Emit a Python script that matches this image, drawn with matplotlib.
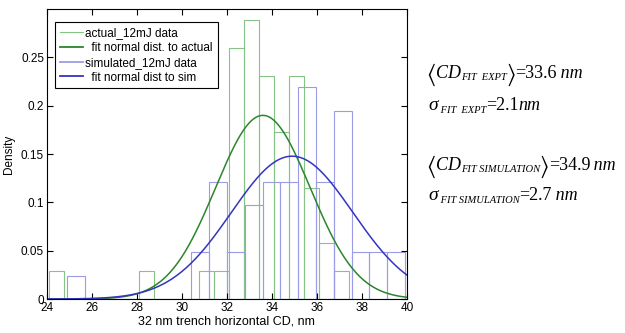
import numpy as np
import matplotlib.pyplot as plt
from matplotlib.lines import Line2D
from matplotlib.transforms import IdentityTransform

actual_start = 24.1
actual_width = 0.667
actual_counts = [1, 0, 0, 0, 0, 0, 1, 0, 0, 0, 1, 1, 9, 10, 8, 6, 8, 4, 2, 1]

sim_start = 24.89
sim_width = 0.791
sim_counts = [1, 0, 0, 0, 0, 0, 0, 2, 5, 2, 4, 5, 5, 9, 5, 8, 2, 2, 2]

# fitted normal parameters (from the annotations)
mu_expt, sigma_expt = 33.6, 2.1
mu_sim, sigma_sim = 34.9, 2.7

xticks = [24, 26, 28, 30, 32, 34, 36, 38, 40]
yticks = [0, 0.05, 0.1, 0.15, 0.2, 0.25]
ytick_labels = ['0', '0.05', '0.1', '0.15', '0.2', '0.25']

c_act = '#86c386'
c_sim = '#9c9ce6'
c_fit_act = '#2b862b'
c_fit_sim = '#3434c0'


def normal_pdf(x, mu, s):
    return np.exp(-0.5 * ((x - mu) / s) ** 2) / (s * np.sqrt(2 * np.pi))


plt.rcParams['font.family'] = ['Liberation Sans', 'DejaVu Sans']
plt.rcParams['mathtext.fontset'] = 'stix'

W, H = 625, 333
fig = plt.figure(figsize=(W / 100, H / 100), dpi=100)
ax = fig.add_axes([0.075, 0.102, 0.576, 0.871])

# histograms as density
a_counts = np.array(actual_counts, dtype=float)
a_left = actual_start + actual_width * np.arange(len(a_counts))
a_dens = a_counts / (a_counts.sum() * actual_width)
ax.bar(a_left, a_dens, width=actual_width, align='edge', fill=False,
       edgecolor=c_act, linewidth=0.8)

s_counts = np.array(sim_counts, dtype=float)
s_left = sim_start + sim_width * np.arange(len(s_counts))
s_dens = s_counts / (s_counts.sum() * sim_width)
ax.bar(s_left, s_dens, width=sim_width, align='edge', fill=False,
       edgecolor=c_sim, linewidth=0.8)

# fitted curves
xx = np.linspace(24, 40, 400)
ax.plot(xx, normal_pdf(xx, mu_expt, sigma_expt), color=c_fit_act, lw=1.1)
ax.plot(xx, normal_pdf(xx, mu_sim, sigma_sim), color=c_fit_sim, lw=1.1)

ax.set_xlim(24, 40)
ax.set_ylim(0, 0.3)
ax.set_xticks(xticks)
ax.set_yticks(yticks)
ax.set_yticklabels(ytick_labels)
ax.tick_params(direction='in', top=True, right=True, labelsize=8.5, length=4,
               pad=2)
ax.set_xlabel('32 nm trench horizontal CD, nm', fontsize=9, labelpad=1)
ax.set_ylabel('Density', fontsize=8.5, labelpad=4)

handles = [Line2D([], [], color=c_act, lw=0.8),
           Line2D([], [], color=c_fit_act, lw=1.3),
           Line2D([], [], color=c_sim, lw=1.3),
           Line2D([], [], color=c_fit_sim, lw=1.3)]
labels = ['actual_12mJ data', '  fit normal dist. to actual',
          'simulated_12mJ data', '  fit normal dist to sim']
leg = ax.legend(handles, labels, loc='upper left',
                bbox_to_anchor=(0.022, 0.955), fontsize=8.5, fancybox=False,
                framealpha=1, edgecolor='black', borderpad=0.4,
                labelspacing=0.25, handlelength=2.0, handletextpad=0.2,
                borderaxespad=0)
leg.get_frame().set_linewidth(0.8)

# annotations on the right, assembled piece by piece (pixel coordinates)
renderer = fig.canvas.get_renderer()
serif = 'Liberation Serif'


def put_line(x, y_top, parts):
    y = H - y_top
    for txt, size, style, dy, dx in parts:
        if txt.startswith('$'):
            t = fig.text(x, y - dy, txt, fontsize=size, va='baseline',
                         transform=IdentityTransform())
        else:
            t = fig.text(x, y - dy, txt, fontsize=size, va='baseline',
                         family=serif, style=style,
                         transform=IdentityTransform())
        x = t.get_window_extent(renderer).x1 + dx


main = 13
sub = 7.6
br = 17
put_line(426, 78, [(r'$\langle$', br, 'normal', 3, 0),
                   ('CD', main, 'italic', 0, 0),
                   ('FIT  EXPT', sub, 'italic', 2, -1),
                   (r'$\rangle$', br, 'normal', 3, 0),
                   ('=33.6', main, 'normal', 0, 0),
                   ('\u2009nm', main, 'italic', 0, 0)])
put_line(428, 110, [('\u03c3', main + 1, 'italic', 0, 0),
                    (' FIT  EXPT', sub, 'italic', 3, 0),
                    ('=2.1', main, 'normal', 0, 0),
                    ('nm', main, 'italic', 0, 0)])
put_line(426, 170, [(r'$\langle$', br, 'normal', 3, 0),
                    ('CD', main, 'italic', 0, 0),
                    ('FIT SIMULATION', sub, 'italic', 2, -1),
                    (r'$\rangle$', br, 'normal', 3, 0),
                    ('=34.9', main, 'normal', 0, 0),
                    ('\u2009nm', main, 'italic', 0, 0)])
put_line(428, 200, [('\u03c3', main + 1, 'italic', 0, 0),
                    (' FIT SIMULATION', sub, 'italic', 3, 0),
                    ('=2.7', main, 'normal', 0, 0),
                    ('\u2009nm', main, 'italic', 0, 0)])

fig.savefig('out.png', dpi=100)
